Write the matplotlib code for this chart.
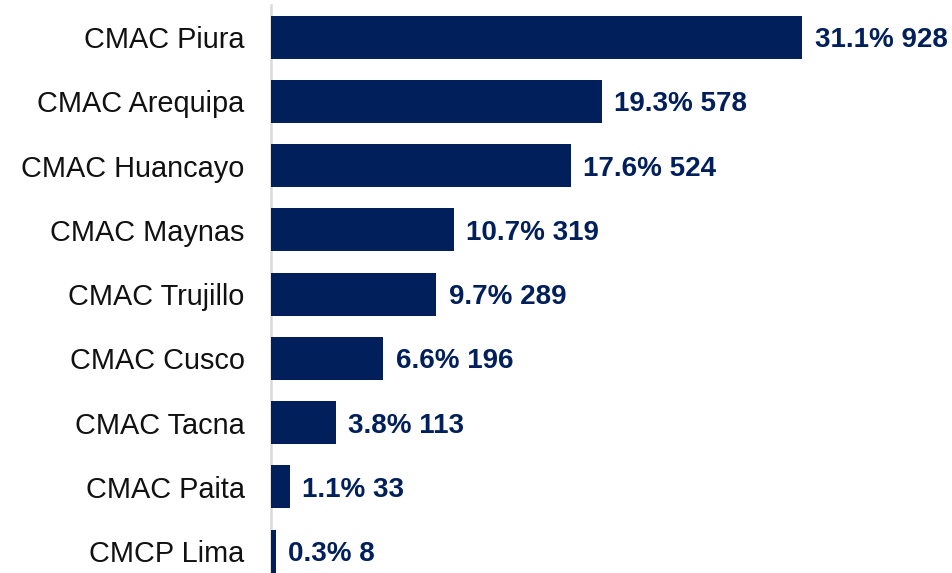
import matplotlib.pyplot as plt

plt.rcParams['font.family'] = ['Liberation Sans', 'DejaVu Sans']

entities = ['CMAC Piura', 'CMAC Arequipa', 'CMAC Huancayo', 'CMAC Maynas',
            'CMAC Trujillo', 'CMAC Cusco', 'CMAC Tacna', 'CMAC Paita', 'CMCP Lima']
counts = [928, 578, 524, 319, 289, 196, 113, 33, 8]
shares = [31.1, 19.3, 17.6, 10.7, 9.7, 6.6, 3.8, 1.1, 0.3]

navy = '#001f5b'

fig = plt.figure(figsize=(9.52, 5.73), dpi=100)
ax = fig.add_axes([271 / 952, 0, 1 - 271 / 952, 568 / 573])

ypos = list(range(len(entities)))
ax.barh(ypos, counts, height=0.67, color=navy, zorder=2)

for y, c, s in zip(ypos, counts, shares):
    ax.text(c + 22, y, f'{s:.1f}% {c}', va='center_baseline', ha='left',
            fontsize=20, fontweight='bold', color=navy)

ax.set_yticks(ypos)
ax.set_yticklabels(entities, fontsize=20.8, color='#111111')
ax.tick_params(axis='y', length=0, pad=19)
ax.set_xticks([])
ax.set_xlim(0, 1190)
ax.set_ylim(8.34, -0.5)

for side in ['top', 'right', 'bottom']:
    ax.spines[side].set_visible(False)
ax.spines['left'].set_color('#d9d9d9')
ax.spines['left'].set_linewidth(1.8)
ax.spines['left'].set_zorder(1)

fig.savefig('out.png', dpi=100)
